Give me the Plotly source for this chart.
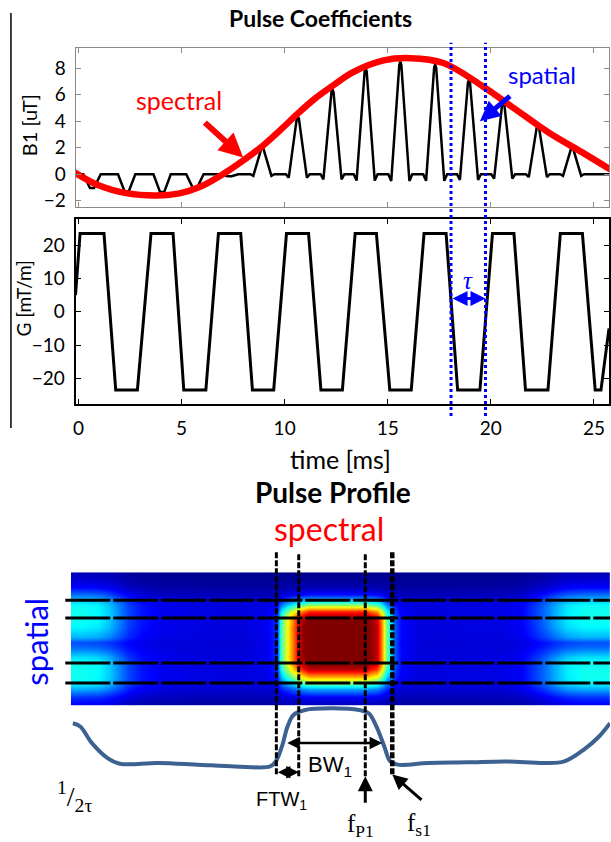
import plotly.graph_objects as go

W, H = 611, 842
def py(px):  # page pixel (from top) -> paper y
    return 1 - px / H
def pxx(px):
    return px / W

# ---------------- data: Pulse Coefficients ----------------
# RF sub-pulse centres [ms] and amplitudes [uT]
b1_sub_t = [0.66, 2.34, 4.06, 5.65, 7.33, 8.92, 10.64, 12.32, 13.93, 15.61,
            17.30, 18.94, 20.60, 22.28, 23.94]
b1_sub_amp = [-1.05, -1.30, -1.35, -1.05, -0.15, 2.0, 4.35, 6.4, 8.0, 8.5,
              8.3, 7.15, 5.5, 3.7, 2.0]
# spectral envelope (red)
env_t = [-0.3, 0.85, 2.4, 3.8, 4.9, 5.9, 7.0, 8.0, 8.9, 9.8, 10.65, 11.5, 12.3,
         13.3, 14.8, 16.1, 17.7, 19.6, 21.2, 22.8, 24.45, 25.8]
env_v = [0.25, -0.75, -1.45, -1.6, -1.45, -0.95, 0.0, 1.05, 2.1, 3.35, 4.6, 5.75,
         6.65, 7.7, 8.6, 8.77, 8.4, 6.65, 4.9, 3.15, 1.63, 0.35]
# gradient waveform breakpoints
g_t = [-0.14, 0.08, 1.24, 1.81, 2.86, 3.52, 4.59, 5.11, 6.18, 6.79, 7.87, 8.44,
       9.47, 10.09, 11.16, 11.76, 12.80, 13.42, 14.45, 15.10, 16.14, 16.76,
       17.83, 18.39, 19.47, 20.08, 21.12, 21.68, 22.77, 23.37, 24.44, 25.06,
       25.34, 25.73]
g_v = [5, 23.5, 23.5, -23.5, -23.5, 23.5, 23.5, -23.5, -23.5, 23.5, 23.5, -23.5,
       -23.5, 23.5, 23.5, -23.5, -23.5, 23.5, 23.5, -23.5, -23.5, 23.5, 23.5,
       -23.5, -23.5, 23.5, 23.5, -23.5, -23.5, 23.5, 23.5, -23.5, -23.5, -5]
tau_t = [18.07, 19.74]
tau_level = 4.0
time_ticks = [0, 5, 10, 15, 20, 25]
b1_ticks = [-2, 0, 2, 4, 6, 8]
g_ticks = [-20, -10, 0, 10, 20]

# ---------------- data: Pulse Profile ----------------
spec_x = [-320, -303, -290, -272, -259, -247, -236, -221, -198, -152, -106,
          -78, -66, -61, -55, -49, -42, -35.5, -28.6, -15, 2, 19.5, 35.5, 42, 49,
          55, 59.5, 64, 70, 77,
          100, 145, 191, 214, 229, 243, 255, 268, 288, 318, 335]
spec_main = [0, 0, 0, 0, 0, 0, 0, 0, 0, 0, 0,
             0.02, 0.08, 0.35, 0.5, 0.65, 0.8, 0.9, 1.0, 1.0, 1.0, 1.0, 1.0, 0.9, 0.85,
             0.65, 0.42, 0.3, 0.12, 0.04,
             0, 0, 0, 0, 0, 0, 0, 0, 0, 0, 0]
spec_side = [1.0, 1.0, 1.0, 0.95, 0.8, 0.55, 0.35, 0.2, 0.1, 0.05, 0.04,
             0.03, 0.03, 0.03, 0.03, 0.03, 0.03, 0.03, 0.03, 0.03, 0.03, 0.03, 0.03,
             0.03, 0.03, 0.03, 0.03, 0.03, 0.03, 0.03,
             0.04, 0.05, 0.06, 0.12, 0.3, 0.5, 0.7, 0.9, 1.0, 1.0, 1.0]
spat_y = [19.4, 17.4, 15.6, 13.6, 11.9, 10.4, 9.1, 7.6, 5.9, 3.6, 1.1, -0.1, -1.4,
          -3.9, -5.4, -6.9, -8.9, -10.4, -11.9, -13.9, -15.9, -17.9]
spat_main = [0, 0, 0, 0.02, 0.08, 0.25, 0.45, 0.75, 0.97, 1.0, 1.0, 1.0, 1.0, 1.0,
             0.97, 0.85, 0.6, 0.4, 0.2, 0.06, 0.02, 0.02]
spat_side = [0.04, 0.04, 0.06, 0.1, 0.18, 0.26, 0.3, 0.31, 0.31, 0.29, 0.22, 0.12,
             0.15, 0.27, 0.31, 0.31, 0.31, 0.29, 0.22, 0.12, 0.08, 0.08]
spat_bg = [0.015, 0.015, 0.02, 0.03, 0.05, 0.07, 0.08, 0.08, 0.08, 0.08, 0.08, 0.08,
           0.08, 0.08, 0.08, 0.08, 0.08, 0.08, 0.07, 0.05, 0.03, 0.03]
prof_f = [-301, -292.5, -279, -261, -247, -203, -158, -114, -73.5, -67, -60,
          -53.5, -46.7, -33.3, -2.2, 29, 40, 49, 58, 64.8, 73.7, 109, 154, 198.5,
          243, 265.5, 287.7, 305.6, 318.2]
prof_v = [0.744, 0.687, 0.397, 0.136, 0.038, 0.049, 0.021, -0.01, -0.01, 0.078,
          0.339, 0.687, 0.89, 0.977, 1.005, 0.977, 0.918, 0.687, 0.339, 0.078,
          0.021, 0.049, 0.061, 0.078, 0.049, 0.078, 0.28, 0.513, 0.744]
spatial_lines = [10.4, 5.9, -5.4, -10.4]
spectral_lines = [-66.4, -40.6, 36.1, 67.2]
bw_edges = [-55.5, 55.5]
bw_level = 0.40

# ---------------- build traces ----------------
bx, by = [g_t[0]], [0.0]
for c, a in zip(b1_sub_t, b1_sub_amp):
    if a >= 0:
        rel = [(-0.58, 0), (-0.44, -0.06), (-0.05, 0.97), (0, 1), (0.05, 0.97),
               (0.44, -0.06), (0.58, 0)]
    else:
        rel = [(-0.42, 0), (-0.1, 1), (0.1, 1), (0.42, 0)]
    for dt, f in rel:
        bx.append(c + dt)
        by.append(a * f)
bx.append(g_t[-1]); by.append(0.0)

z = [[min(1.0, sm * mm + ss * sd + bg) for mm, sd in zip(spec_main, spec_side)]
     for sm, ss, bg in zip(spat_main, spat_side, spat_bg)]

jet = [[0, 'rgb(0,0,128)'], [0.125, 'rgb(0,0,255)'], [0.375, 'rgb(0,255,255)'],
       [0.625, 'rgb(255,255,0)'], [0.875, 'rgb(255,0,0)'], [1, 'rgb(128,0,0)']]

fig = go.Figure()
fig.add_trace(go.Heatmap(x=spec_x, y=spat_y, z=z, xaxis='x3', yaxis='y3',
                         colorscale=jet, zmin=0, zmax=1, zsmooth='best',
                         showscale=False, hoverinfo='skip'))
fig.add_trace(go.Scatter(x=bx, y=by, mode='lines', xaxis='x', yaxis='y',
                         line=dict(color='black', width=2.5), showlegend=False))
fig.add_trace(go.Scatter(x=env_t, y=env_v, mode='lines', xaxis='x', yaxis='y',
                         line=dict(color='#ff0000', width=6.5, shape='spline'),
                         showlegend=False))
fig.add_trace(go.Scatter(x=g_t, y=g_v, mode='lines', xaxis='x2', yaxis='y2',
                         line=dict(color='black', width=3), showlegend=False))
fig.add_trace(go.Scatter(x=prof_f, y=prof_v, mode='lines', xaxis='x4', yaxis='y4',
                         line=dict(color='#3d6291', width=4, shape='spline'),
                         showlegend=False))

SANS = 'Lato'
tick_font = dict(family=SANS, size=19, color='black')
common_x = dict(range=[-0.14, 25.73], domain=[pxx(73), pxx(610)], tickvals=time_ticks,
                ticks='inside', ticklen=5, mirror='allticks', showgrid=False,
                zeroline=False, showline=True)
fig.update_layout(
    width=W, height=H, margin=dict(l=0, r=0, t=0, b=0),
    paper_bgcolor='white', plot_bgcolor='rgba(0,0,0,0)', showlegend=False,
    xaxis=dict(**common_x, anchor='y', matches='x2', showticklabels=False,
               linecolor='#8a8a8a', linewidth=1, tickcolor='#8a8a8a'),
    yaxis=dict(domain=[py(208.3), py(48.3)], range=[-2.5, 9.53], tickvals=b1_ticks,
               ticks='inside', ticklen=5, mirror='allticks', showgrid=False,
               zeroline=False, showline=True, linecolor='#8a8a8a', linewidth=1,
               tickcolor='#8a8a8a', tickfont=tick_font, ticklabelstandoff=5,
               anchor='x'),
    xaxis2=dict(**common_x, anchor='y2', linecolor='black', linewidth=2,
                tickcolor='black', tickfont=tick_font, ticklabelstandoff=6,
                ticklabeloverflow='allow'),
    yaxis2=dict(domain=[py(406), py(220.5)], range=[-27.7, 27.7], tickvals=g_ticks,
                ticks='inside', ticklen=5, mirror='allticks', showgrid=False,
                zeroline=False, showline=True, linecolor='black', linewidth=2,
                tickcolor='black', tickfont=tick_font, ticklabelstandoff=5,
                anchor='x2'),
    xaxis3=dict(domain=[pxx(68.3), 1], range=[-303.3, 318.2], visible=False,
                anchor='y3'),
    yaxis3=dict(domain=[py(709), py(575)], range=[-16.1, 17.4], visible=False,
                anchor='x3'),
    xaxis4=dict(domain=[pxx(68.3), 1], range=[-303.3, 318.2], visible=False,
                anchor='y4', matches='x3'),
    yaxis4=dict(domain=[0, py(700)], range=[-1.261, 1.209], visible=False,
                anchor='x4'),
)

shapes = []
shapes.append(dict(type='line', xref='paper', yref='paper', x0=pxx(8), x1=pxx(8),
                   y0=py(13), y1=py(430), line=dict(color='black', width=1.5)))
for t in tau_t:
    shapes.append(dict(type='line', xref='x', yref='paper', x0=t, x1=t,
                       y0=py(418), y1=py(43),
                       line=dict(color='#0000ff', width=3, dash='dot')))
for s in spatial_lines:
    shapes.append(dict(type='line', xref='paper', yref='y3', x0=pxx(62.7), x1=1,
                       y0=s, y1=s, line=dict(color='black', width=3,
                                               dash='45px,3px')))
v_bottom = [778, 780, 780, 778]
v_width = [3, 3, 3, 4.5]
for f, b, w in zip(spectral_lines, v_bottom, v_width):
    shapes.append(dict(type='line', xref='x3', yref='paper', x0=f, x1=f,
                       y0=py(b), y1=py(555),
                       line=dict(color='black', width=w, dash='6px,2px')))
fig.update_layout(shapes=shapes)

ann = []
def text(x, y, s, size, color='black', xref='paper', yref='paper', family=SANS,
         angle=0, **kw):
    ann.append(dict(x=x, y=y, xref=xref, yref=yref, text=s, showarrow=False,
                    font=dict(family=family, size=size, color=color),
                    textangle=angle, xanchor='center', yanchor='middle', **kw))

def arrow(x, y, ax, ay, xref, yref, color, width, head=2, size=1.0, both=False):
    ann.append(dict(x=x, y=y, ax=ax, ay=ay, xref=xref, yref=yref, axref=xref,
                    ayref=yref, text='', showarrow=True, arrowhead=head,
                    startarrowhead=head, arrowsize=size, startarrowsize=size,
                    arrowwidth=width, arrowcolor=color,
                    arrowside='end+start' if both else 'end'))

text(pxx(320), py(18), '<b>Pulse Coefficients</b>', 23)
text(pxx(27), py(126), 'B1 [uT]', 20, angle=-90)
text(pxx(21), py(300), 'G [mT/m]', 19, angle=-90)
text(pxx(340), py(461), 'time [ms]', 25)
text(4.9, 5.6, 'spectral', 25, color='#ff0000', xref='x', yref='y')
arrow(7.99, 1.26, 6.06, 4.0, 'x', 'y', '#ff0000', 6, size=0.8)
text(22.5, 7.52, 'spatial', 24, color='#0000ff', xref='x', yref='y')
arrow(19.47, 4.0, 21.0, 6.0, 'x', 'y', '#0000ff', 5, size=0.8)
arrow(tau_t[1], tau_level, tau_t[0], tau_level, 'x2', 'y2', '#0000ff', 3, size=1.0,
      both=True)
text(18.9, 9.3, '<i>τ</i>', 25, color='#0000ff', xref='x2', yref='y2',
     family='Liberation Serif')

text(pxx(332), py(494), '<b>Pulse Profile</b>', 28)
text(pxx(328), py(531), 'spectral', 32, color='#ff0000')
text(pxx(33), py(645), 'spatial', 31, color='#0000ff', angle=-90)

arrow(bw_edges[1], bw_level, bw_edges[0], bw_level, 'x4', 'y4', 'black', 2.5,
      both=True)
text(-4, 0.0, 'BW<sub>1</sub>', 22, xref='x4', yref='y4',
     family='Liberation Sans')
arrow(spectral_lines[1], -0.113, spectral_lines[0], -0.113, 'x4', 'y4', 'black',
      2.5, both=True)
text(-60, -0.6, 'FTW<sub>1</sub>', 20, xref='x4', yref='y4',
     family='Liberation Sans')
arrow(spectral_lines[2], -0.183, spectral_lines[2], -0.67, 'x4', 'y4', 'black', 3)
text(31, -1.04, 'f<sub>P1</sub>', 25, xref='x4', yref='y4',
     family='Liberation Serif')
arrow(spectral_lines[3], -0.153, 102.7, -0.617, 'x4', 'y4', 'black', 3)
text(98, -1.02, 'f<sub>s1</sub>', 25, xref='x4', yref='y4',
     family='Liberation Serif')
text(pxx(72), py(800), '<sup>1</sup>/<sub>2τ</sub>', 28, family='Liberation Serif')

fig.update_layout(annotations=ann)
fig.write_html(
    'out.html',
    config={'displayModeBar': False},
    post_script=("document.documentElement.style.margin='0';"
                 "document.body.style.margin='0';document.body.style.padding='0';"
                 "document.documentElement.style.overflow='hidden';"
                 "document.body.style.overflow='hidden';"))
